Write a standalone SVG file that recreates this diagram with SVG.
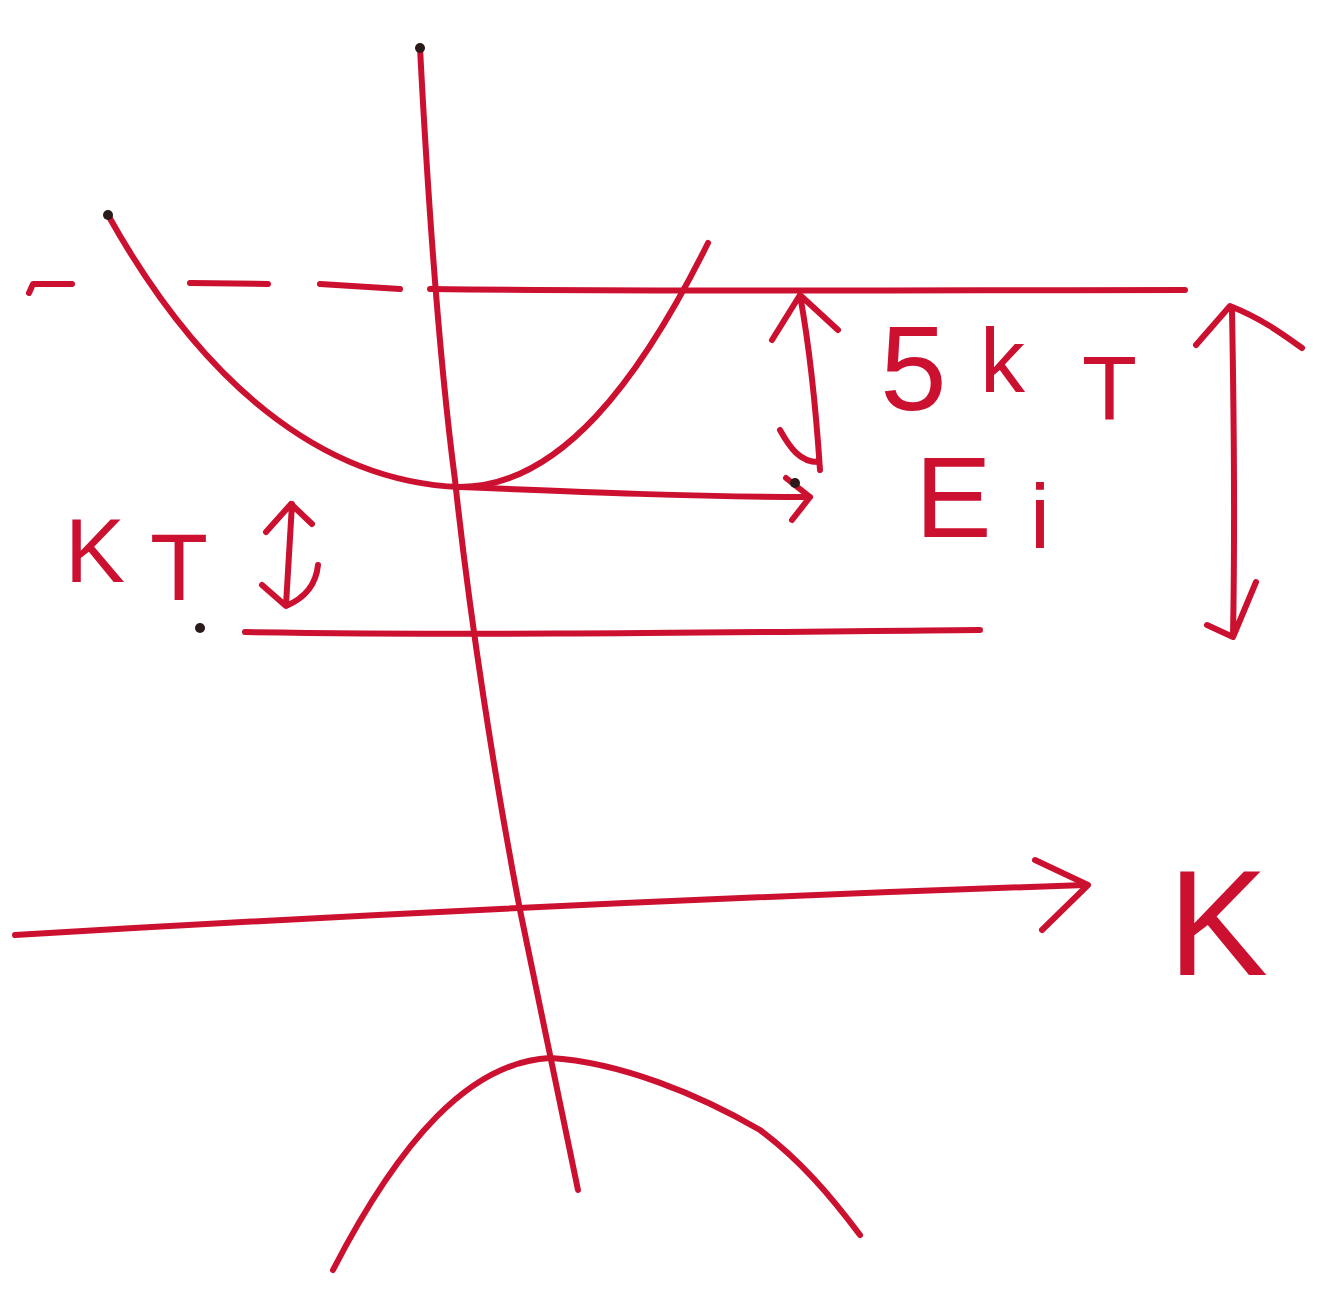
<svg xmlns="http://www.w3.org/2000/svg" width="1339" height="1294" viewBox="0 0 1339 1294">
<style>
.s{fill:none;stroke:#cc1030;stroke-width:6;stroke-linecap:round;stroke-linejoin:round}
.t{fill:#cc1030;font-family:"Liberation Sans",Arial,sans-serif}
.d{fill:#2a1a1a}
</style>
<rect width="1339" height="1294" fill="#ffffff"/>
<g id="connectors">
<path class="s" d="M420,48 C428,200 438,350 455,480 C470,620 495,780 520,910 C540,1010 560,1100 578,1190"/>
<path class="s" d="M15,935 C300,918 700,898 1085,885"/>
<path class="s" d="M1035,860 L1088,885 L1042,930"/>
<path class="s" d="M29,293 L33,284 L72,284 M190,283 L268,284 M320,284 L400,289 M430,289 C700,292 950,290 1185,290"/>
<path class="s" d="M245,632 C500,636 750,632 980,630"/>
<path class="s" d="M460,487 C580,492 700,497 810,497 M786,478 L810,497 L792,520"/>
<path class="s" d="M800,295 C810,350 816,410 820,470 M772,340 L800,295 L838,330 M780,430 C790,448 800,462 818,462"/>
<path class="s" d="M1232,310 C1234,420 1235,530 1233,636 M1196,345 L1230,306 C1260,318 1280,332 1302,348 M1207,625 L1233,637 L1256,582"/>
<path class="s" d="M292,504 C290,540 288,575 286,605 M266,532 L291,504 L312,524 M262,585 L286,606 C305,598 316,585 318,565"/>
</g>
<g id="conduction-band">
<path class="s" d="M108,215 C200,380 320,482 460,487 C560,487 640,380 708,243"/>
<circle class="d" cx="108" cy="215" r="5"/>
</g>
<g id="valence-band">
<path class="s" d="M333,1270 C400,1140 470,1062 550,1058 C620,1062 700,1095 760,1130 C800,1160 830,1195 860,1235"/>
</g>
<g id="markers">
<circle class="d" cx="420" cy="48" r="5"/>
<circle class="d" cx="200" cy="628" r="5"/>
<circle class="d" cx="795" cy="483" r="5"/>
</g>
<g id="label-5kT">
<text class="t" x="880" y="410" font-size="120">5</text>
<text class="t" x="980" y="392" font-size="90">k</text>
<text class="t" x="1082" y="420" font-size="90">T</text>
</g>
<g id="label-Ei">
<text class="t" x="915" y="537" font-size="115">E</text>
<text class="t" x="1030" y="548" font-size="90">i</text>
</g>
<g id="label-kT">
<text class="t" x="65" y="582" font-size="90">K</text>
<text class="t" x="150" y="600" font-size="95">T</text>
</g>
<g id="label-K">
<text class="t" x="1168" y="975" font-size="150">K</text>
</g>
</svg>
